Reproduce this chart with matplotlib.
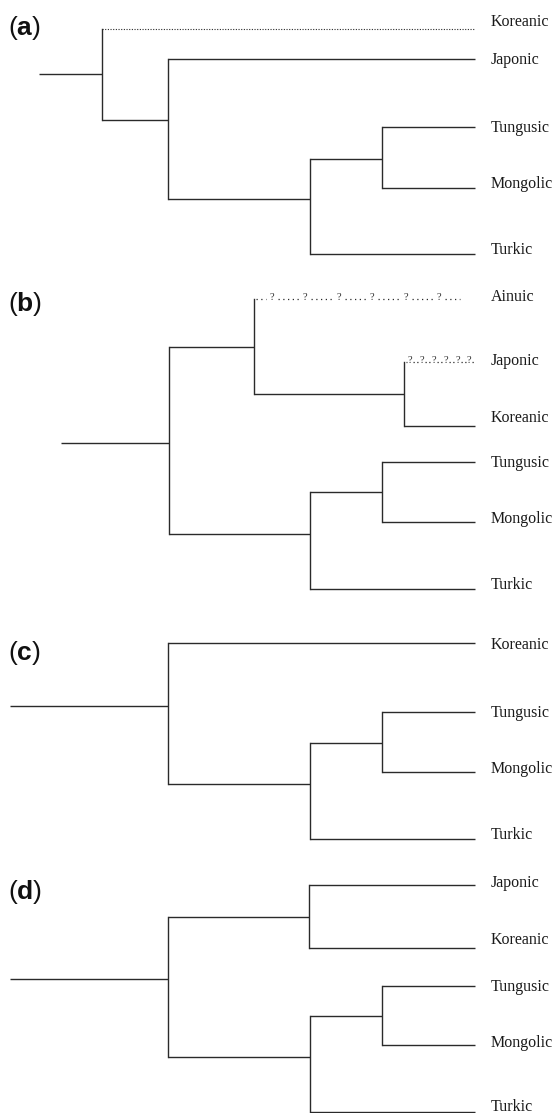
import matplotlib
matplotlib.use("Agg")
import matplotlib.pyplot as plt

plt.rcParams["mathtext.fontset"] = "custom"
plt.rcParams["mathtext.rm"] = "Liberation Sans"
plt.rcParams["mathtext.bf"] = "Liberation Sans:bold"

W, H = 556, 1113
LINE = "#2a2a2a"
TIP_END = 475
LABEL_X = 491

# Internal nodes of each tree: x, y of the stem, parent index (-1 = root end)
A_NODE_X = [38.5, 101.6, 167.5, 310.0, 381.7]
A_NODE_Y = [74.0, 74.0, 120.0, 199.0, 159.0]
A_NODE_PARENT = [-1, 0, 1, 2, 3]
A_TIPS = ["Koreanic", "Japonic", "Tungusic", "Mongolic", "Turkic"]
A_TIP_Y = [28.5, 59.0, 127.0, 188.0, 254.0]
A_TIP_PARENT = [1, 2, 4, 4, 3]
A_TIP_STYLE = ["dotted", "solid", "solid", "solid", "solid"]
A_LABEL_Y = [22.0, 60.0, 128.0, 184.0, 250.0]

B_NODE_X = [61.3, 169.0, 254.0, 403.5, 310.0, 381.7]
B_NODE_Y = [443.0, 443.0, 346.7, 394.0, 534.0, 492.0]
B_NODE_PARENT = [-1, 0, 1, 2, 1, 4]
B_TIPS = ["Ainuic", "Japonic", "Koreanic", "Tungusic", "Mongolic", "Turkic"]
B_TIP_Y = [299.0, 362.0, 426.0, 462.0, 522.0, 589.0]
B_TIP_PARENT = [2, 3, 3, 5, 5, 4]
B_TIP_STYLE = ["query", "query", "solid", "solid", "solid", "solid"]
B_LABEL_Y = [297.0, 361.0, 418.0, 463.0, 519.0, 585.0]
# positions of the "?" marks along the uncertain branches
AINUIC_Q_X = [272, 305, 339, 372, 406, 439]
AINUIC_END = 460
JAPONIC_Q_X = [410, 422, 434, 446, 458, 469]
JAPONIC_END = 474

C_NODE_X = [10.0, 167.5, 309.5, 381.7]
C_NODE_Y = [705.7, 705.7, 783.7, 742.7]
C_NODE_PARENT = [-1, 0, 1, 2]
C_TIPS = ["Koreanic", "Tungusic", "Mongolic", "Turkic"]
C_TIP_Y = [643.3, 712.3, 772.0, 838.7]
C_TIP_PARENT = [1, 3, 3, 2]
C_TIP_STYLE = ["solid"] * 4
C_LABEL_Y = [645.0, 713.0, 769.0, 835.0]

D_NODE_X = [10.0, 167.5, 308.6, 309.7, 381.7]
D_NODE_Y = [978.7, 978.7, 917.0, 1057.3, 1016.0]
D_NODE_PARENT = [-1, 0, 1, 1, 3]
D_TIPS = ["Japonic", "Koreanic", "Tungusic", "Mongolic", "Turkic"]
D_TIP_Y = [885.0, 947.7, 985.7, 1045.0, 1111.7]
D_TIP_PARENT = [2, 2, 4, 4, 3]
D_TIP_STYLE = ["solid"] * 5
D_LABEL_Y = [883.0, 940.0, 987.0, 1043.0, 1107.0]

PANEL_TAGS = ["a", "b", "c", "d"]
PANEL_TAG_Y = [28.0, 304.0, 653.0, 892.0]

fig = plt.figure(figsize=(W / 100, H / 100), dpi=100)
ax = fig.add_axes([0, 0, 1, 1])
ax.set_xlim(0, W)
ax.set_ylim(H, 0)
ax.axis("off")


def query_branch(x0, y, q_xs, x_end, gap, dots):
    # dotted branch interrupted by question marks
    starts = [x0] + [q + gap for q in q_xs]
    stops = [q - gap for q in q_xs] + [x_end]
    for s, e in zip(starts, stops):
        if e > s:
            ax.plot([s, e], [y, y], color=LINE, lw=0.9, ls=(0, dots),
                    solid_capstyle="butt")
    for q in q_xs:
        ax.text(q, y + 0.8, "?", family="Liberation Serif", fontsize=7.5,
                ha="center", va="baseline", color=LINE)


def draw_tree(node_x, node_y, node_parent, tips, tip_y, tip_parent,
              tip_style, label_y):
    kids = {i: [] for i in range(len(node_x))}
    for i, p in enumerate(node_parent):
        if p >= 0:
            kids[p].append(node_y[i])
            ax.plot([node_x[p], node_x[i]], [node_y[i], node_y[i]],
                    color=LINE, lw=1.0, solid_capstyle="butt")
    for name, y, p, style, ly in zip(tips, tip_y, tip_parent, tip_style, label_y):
        kids[p].append(y)
        if style == "dotted":
            ax.plot([node_x[p], TIP_END], [y, y], color=LINE, lw=0.8,
                    ls=(0, (1, 1.4)))
        elif style == "query":
            if name == "Ainuic":
                query_branch(node_x[p] + 2, y, AINUIC_Q_X, AINUIC_END, 6.0,
                             (1.0, 2.8))
            else:
                query_branch(node_x[p] + 2, y, JAPONIC_Q_X, JAPONIC_END, 3.0,
                             (1.0, 2.0))
        else:
            ax.plot([node_x[p], TIP_END], [y, y], color=LINE, lw=1.0,
                    solid_capstyle="butt")
        ax.text(LABEL_X, ly, name, family="Liberation Serif", fontsize=11.5,
                ha="left", va="center", color="#1a1a1a")
    for i, ys in kids.items():
        if len(ys) > 1:
            ax.plot([node_x[i], node_x[i]], [min(ys), max(ys)], color=LINE,
                    lw=1.0, solid_capstyle="projecting")


draw_tree(A_NODE_X, A_NODE_Y, A_NODE_PARENT, A_TIPS, A_TIP_Y, A_TIP_PARENT,
          A_TIP_STYLE, A_LABEL_Y)
draw_tree(B_NODE_X, B_NODE_Y, B_NODE_PARENT, B_TIPS, B_TIP_Y, B_TIP_PARENT,
          B_TIP_STYLE, B_LABEL_Y)
draw_tree(C_NODE_X, C_NODE_Y, C_NODE_PARENT, C_TIPS, C_TIP_Y, C_TIP_PARENT,
          C_TIP_STYLE, C_LABEL_Y)
draw_tree(D_NODE_X, D_NODE_Y, D_NODE_PARENT, D_TIPS, D_TIP_Y, D_TIP_PARENT,
          D_TIP_STYLE, D_LABEL_Y)

for tag, ty in zip(PANEL_TAGS, PANEL_TAG_Y):
    ax.text(8, ty, r"$\mathrm{(}\mathbf{%s}\mathrm{)}$" % tag, fontsize=19,
            ha="left", va="center", color="#111111")

fig.savefig("out.png", dpi=100)
